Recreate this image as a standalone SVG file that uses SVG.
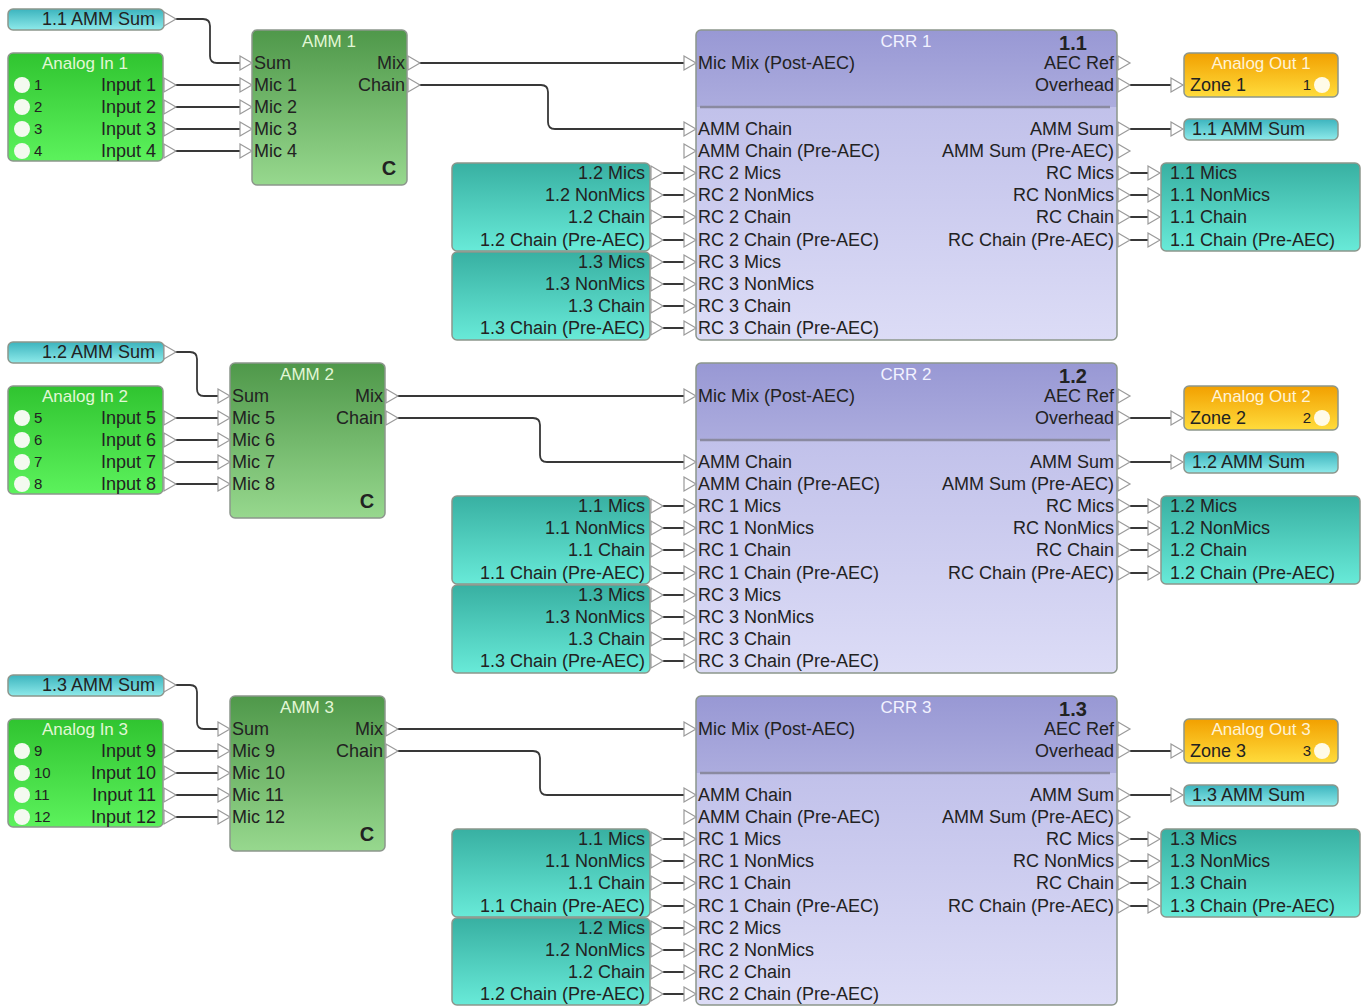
<svg xmlns="http://www.w3.org/2000/svg" xmlns:xlink="http://www.w3.org/1999/xlink" width="1362" height="1006" viewBox="0 0 1362 1006">
<defs>
<linearGradient id="gAmm" x1="0" y1="0" x2="0" y2="1"><stop offset="0" stop-color="#4f984a"/><stop offset="1" stop-color="#97d88e"/></linearGradient>
<linearGradient id="gIn" x1="0" y1="0" x2="0" y2="1"><stop offset="0" stop-color="#30c430"/><stop offset="1" stop-color="#5cf25c"/></linearGradient>
<linearGradient id="gOut" x1="0" y1="0" x2="0" y2="1"><stop offset="0" stop-color="#f2a000"/><stop offset="1" stop-color="#ffdc3c"/></linearGradient>
<linearGradient id="gTeal" x1="0" y1="0" x2="0" y2="1"><stop offset="0" stop-color="#38b0a2"/><stop offset="1" stop-color="#68ead8"/></linearGradient>
<linearGradient id="gSum" x1="0" y1="0" x2="0" y2="1"><stop offset="0" stop-color="#3cb4be"/><stop offset="1" stop-color="#8eeaea"/></linearGradient>
<linearGradient id="gCrrTop" x1="0" y1="0" x2="0" y2="1"><stop offset="0" stop-color="#9898d4"/><stop offset="1" stop-color="#acacde"/></linearGradient>
<linearGradient id="gCrrBot" x1="0" y1="0" x2="0" y2="1"><stop offset="0" stop-color="#b8b8e6"/><stop offset="1" stop-color="#dcdcf6"/></linearGradient>
<path id="tri" d="M0,-7 L12,0 L0,7 Z" class="port"/>
</defs>
<style>
.t{font-family:"Liberation Sans",Arial,sans-serif;font-size:18px;fill:#222222}
.e{text-anchor:end}
.m{text-anchor:middle}
.n{font-size:15px}
.b{font-weight:bold;font-size:20px}
.tg{fill:#e2f7d6;font-size:17px}
.tp{fill:#f2f2ff;font-size:17px}
.to{fill:#fff3d6;font-size:17px}
.port{fill:#ffffff;stroke:#9a9a9a;stroke-width:1.2}
.wire{fill:none;stroke:#383838;stroke-width:1.8}
.box{stroke:#8c968c;stroke-width:1.5}
.amm{fill:url(#gAmm)}
.ain{fill:url(#gIn)}
.aout{fill:url(#gOut)}
.teal{fill:url(#gTeal)}
.sum{fill:url(#gSum)}
.led{fill:#f4faf0}
.crrb{fill:url(#gCrrBot)}
.crrt{fill:url(#gCrrTop)}
.sep{stroke:#8a8aa0;stroke-width:2.5}
</style>
<rect width="1362" height="1006" fill="#ffffff"/>

<g id="connectors">
<path class="wire" d="M172,19 H203 Q210,19 210,26 V56 Q210,63 217,63 H240"/>
<path class="wire" d="M174,85 H240 M174,107 H240 M174,129 H240 M174,151 H240"/>
<path class="wire" d="M418,63 H684"/>
<path class="wire" d="M418,85 H541 Q548,85 548,92 V122 Q548,129 555,129 H684"/>
<path class="wire" d="M663,173 H684 M663,195 H684 M663,217 H684 M663,240 H684 M663,262 H684 M663,284 H684 M663,306 H684 M663,328 H684"/>
<path class="wire" d="M1130,85 H1171 M1130,129 H1171"/>
<path class="wire" d="M1130,173 H1148 M1130,195 H1148 M1130,217 H1148 M1130,240 H1148"/>
<path class="wire" d="M172,352 H190 Q197,352 197,359 V389 Q197,396 204,396 H218"/>
<path class="wire" d="M174,418 H218 M174,440 H218 M174,462 H218 M174,484 H218"/>
<path class="wire" d="M396,396 H684"/>
<path class="wire" d="M396,418 H533 Q540,418 540,425 V455 Q540,462 547,462 H684"/>
<path class="wire" d="M663,506 H684 M663,528 H684 M663,550 H684 M663,573 H684 M663,595 H684 M663,617 H684 M663,639 H684 M663,661 H684"/>
<path class="wire" d="M1130,418 H1171 M1130,462 H1171"/>
<path class="wire" d="M1130,506 H1148 M1130,528 H1148 M1130,550 H1148 M1130,573 H1148"/>
<path class="wire" d="M172,685 H190 Q197,685 197,692 V722 Q197,729 204,729 H218"/>
<path class="wire" d="M174,751 H218 M174,773 H218 M174,795 H218 M174,817 H218"/>
<path class="wire" d="M396,729 H684"/>
<path class="wire" d="M396,751 H533 Q540,751 540,758 V788 Q540,795 547,795 H684"/>
<path class="wire" d="M663,839 H684 M663,861 H684 M663,883 H684 M663,906 H684 M663,928 H684 M663,950 H684 M663,972 H684 M663,994 H684"/>
<path class="wire" d="M1130,751 H1171 M1130,795 H1171"/>
<path class="wire" d="M1130,839 H1148 M1130,861 H1148 M1130,883 H1148 M1130,906 H1148"/>
</g>

<g id="amm-sum-in-1">
<rect class="box sum" x="8" y="9" width="156" height="21" rx="5"/>
<text class="t e" x="155" y="25">1.1 AMM Sum</text>
<use href="#tri" x="164" y="19"/>
</g>
<g id="analog-in-1">
<rect class="box ain" x="8" y="53" width="155" height="108" rx="5"/>
<text class="t m tg" x="85" y="69">Analog In 1</text>
<circle class="led" cx="22" cy="85" r="8"/><circle class="led" cx="22" cy="107" r="8"/><circle class="led" cx="22" cy="129" r="8"/><circle class="led" cx="22" cy="151" r="8"/>
<text class="t n" x="34" y="90">1</text><text class="t n" x="34" y="112">2</text><text class="t n" x="34" y="134">3</text><text class="t n" x="34" y="156">4</text>
<text class="t e" x="156" y="91">Input 1</text><text class="t e" x="156" y="113">Input 2</text><text class="t e" x="156" y="135">Input 3</text><text class="t e" x="156" y="157">Input 4</text>
<use href="#tri" x="164" y="85"/><use href="#tri" x="164" y="107"/><use href="#tri" x="164" y="129"/><use href="#tri" x="164" y="151"/>
</g>
<g id="amm-1">
<rect class="box amm" x="252" y="30" width="155" height="155" rx="5"/>
<text class="t m tg" x="329" y="47">AMM 1</text>
<text class="t" x="254" y="69">Sum</text><text class="t" x="254" y="91">Mic 1</text><text class="t" x="254" y="113">Mic 2</text><text class="t" x="254" y="135">Mic 3</text><text class="t" x="254" y="157">Mic 4</text>
<text class="t e" x="405" y="69">Mix</text><text class="t e" x="405" y="91">Chain</text>
<text class="t m b" x="389" y="175">C</text>
<use href="#tri" x="240" y="63"/><use href="#tri" x="240" y="85"/><use href="#tri" x="240" y="107"/><use href="#tri" x="240" y="129"/><use href="#tri" x="240" y="151"/>
<use href="#tri" x="408" y="63"/><use href="#tri" x="408" y="85"/>
</g>
<g id="crr-1">
<rect class="crrb" x="696" y="30" width="421" height="310" rx="5"/>
<path class="crrt" d="M696,107 V35 Q696,30 701,30 H1112 Q1117,30 1117,35 V107 Z"/>
<line class="sep" x1="700" y1="107" x2="1110" y2="107"/>
<rect class="box" fill="none" x="696" y="30" width="421" height="310" rx="5"/>
<text class="t m tp" x="906" y="47">CRR 1</text>
<text class="t m b" x="1073" y="50">1.1</text>
<text class="t" x="698" y="69">Mic Mix (Post-AEC)</text>
<text class="t" x="698" y="135">AMM Chain</text>
<text class="t" x="698" y="157">AMM Chain (Pre-AEC)</text>
<text class="t" x="698" y="179">RC 2 Mics</text>
<text class="t" x="698" y="201">RC 2 NonMics</text>
<text class="t" x="698" y="223">RC 2 Chain</text>
<text class="t" x="698" y="246">RC 2 Chain (Pre-AEC)</text>
<text class="t" x="698" y="268">RC 3 Mics</text>
<text class="t" x="698" y="290">RC 3 NonMics</text>
<text class="t" x="698" y="312">RC 3 Chain</text>
<text class="t" x="698" y="334">RC 3 Chain (Pre-AEC)</text>
<text class="t e" x="1114" y="69">AEC Ref</text>
<text class="t e" x="1114" y="91">Overhead</text>
<text class="t e" x="1114" y="135">AMM Sum</text>
<text class="t e" x="1114" y="157">AMM Sum (Pre-AEC)</text>
<text class="t e" x="1114" y="179">RC Mics</text>
<text class="t e" x="1114" y="201">RC NonMics</text>
<text class="t e" x="1114" y="223">RC Chain</text>
<text class="t e" x="1114" y="246">RC Chain (Pre-AEC)</text>
<use href="#tri" x="684" y="63"/><use href="#tri" x="684" y="129"/><use href="#tri" x="684" y="151"/><use href="#tri" x="684" y="173"/><use href="#tri" x="684" y="195"/><use href="#tri" x="684" y="217"/><use href="#tri" x="684" y="240"/><use href="#tri" x="684" y="262"/><use href="#tri" x="684" y="284"/><use href="#tri" x="684" y="306"/><use href="#tri" x="684" y="328"/>
<use href="#tri" x="1118" y="63"/><use href="#tri" x="1118" y="85"/><use href="#tri" x="1118" y="129"/><use href="#tri" x="1118" y="151"/><use href="#tri" x="1118" y="173"/><use href="#tri" x="1118" y="195"/><use href="#tri" x="1118" y="217"/><use href="#tri" x="1118" y="240"/>
</g>
<g id="rc-in-1-2">
<rect class="box teal" x="452" y="163" width="198" height="88" rx="5"/>
<text class="t e" x="645" y="179">1.2 Mics</text><text class="t e" x="645" y="201">1.2 NonMics</text><text class="t e" x="645" y="223">1.2 Chain</text><text class="t e" x="645" y="246">1.2 Chain (Pre-AEC)</text>
<use href="#tri" x="651" y="173"/><use href="#tri" x="651" y="195"/><use href="#tri" x="651" y="217"/><use href="#tri" x="651" y="240"/>
</g>
<g id="rc-in-1-3">
<rect class="box teal" x="452" y="252" width="198" height="88" rx="5"/>
<text class="t e" x="645" y="268">1.3 Mics</text><text class="t e" x="645" y="290">1.3 NonMics</text><text class="t e" x="645" y="312">1.3 Chain</text><text class="t e" x="645" y="334">1.3 Chain (Pre-AEC)</text>
<use href="#tri" x="651" y="262"/><use href="#tri" x="651" y="284"/><use href="#tri" x="651" y="306"/><use href="#tri" x="651" y="328"/>
</g>
<g id="analog-out-1">
<rect class="box aout" x="1184" y="53" width="154" height="44" rx="5"/>
<text class="t m to" x="1261" y="69">Analog Out 1</text>
<text class="t" x="1190" y="91">Zone 1</text>
<text class="t n e" x="1311" y="90">1</text>
<circle cx="1322" cy="85" r="8" fill="#fffbe8"/>
<use href="#tri" x="1171" y="85"/>
</g>
<g id="amm-sum-out-1">
<rect class="box sum" x="1184" y="119" width="154" height="21" rx="5"/>
<text class="t" x="1192" y="135">1.1 AMM Sum</text>
<use href="#tri" x="1171" y="129"/>
</g>
<g id="rc-out-1">
<rect class="box teal" x="1161" y="163" width="199" height="88" rx="5"/>
<text class="t" x="1170" y="179">1.1 Mics</text><text class="t" x="1170" y="201">1.1 NonMics</text><text class="t" x="1170" y="223">1.1 Chain</text><text class="t" x="1170" y="246">1.1 Chain (Pre-AEC)</text>
<use href="#tri" x="1148" y="173"/><use href="#tri" x="1148" y="195"/><use href="#tri" x="1148" y="217"/><use href="#tri" x="1148" y="240"/>
</g>

<g id="amm-sum-in-2">
<rect class="box sum" x="8" y="342" width="156" height="21" rx="5"/>
<text class="t e" x="155" y="358">1.2 AMM Sum</text>
<use href="#tri" x="164" y="352"/>
</g>
<g id="analog-in-2">
<rect class="box ain" x="8" y="386" width="155" height="108" rx="5"/>
<text class="t m tg" x="85" y="402">Analog In 2</text>
<circle class="led" cx="22" cy="418" r="8"/><circle class="led" cx="22" cy="440" r="8"/><circle class="led" cx="22" cy="462" r="8"/><circle class="led" cx="22" cy="484" r="8"/>
<text class="t n" x="34" y="423">5</text><text class="t n" x="34" y="445">6</text><text class="t n" x="34" y="467">7</text><text class="t n" x="34" y="489">8</text>
<text class="t e" x="156" y="424">Input 5</text><text class="t e" x="156" y="446">Input 6</text><text class="t e" x="156" y="468">Input 7</text><text class="t e" x="156" y="490">Input 8</text>
<use href="#tri" x="164" y="418"/><use href="#tri" x="164" y="440"/><use href="#tri" x="164" y="462"/><use href="#tri" x="164" y="484"/>
</g>
<g id="amm-2">
<rect class="box amm" x="230" y="363" width="155" height="155" rx="5"/>
<text class="t m tg" x="307" y="380">AMM 2</text>
<text class="t" x="232" y="402">Sum</text><text class="t" x="232" y="424">Mic 5</text><text class="t" x="232" y="446">Mic 6</text><text class="t" x="232" y="468">Mic 7</text><text class="t" x="232" y="490">Mic 8</text>
<text class="t e" x="383" y="402">Mix</text><text class="t e" x="383" y="424">Chain</text>
<text class="t m b" x="367" y="508">C</text>
<use href="#tri" x="218" y="396"/><use href="#tri" x="218" y="418"/><use href="#tri" x="218" y="440"/><use href="#tri" x="218" y="462"/><use href="#tri" x="218" y="484"/>
<use href="#tri" x="386" y="396"/><use href="#tri" x="386" y="418"/>
</g>
<g id="crr-2">
<rect class="crrb" x="696" y="363" width="421" height="310" rx="5"/>
<path class="crrt" d="M696,440 V368 Q696,363 701,363 H1112 Q1117,363 1117,368 V440 Z"/>
<line class="sep" x1="700" y1="440" x2="1110" y2="440"/>
<rect class="box" fill="none" x="696" y="363" width="421" height="310" rx="5"/>
<text class="t m tp" x="906" y="380">CRR 2</text>
<text class="t m b" x="1073" y="383">1.2</text>
<text class="t" x="698" y="402">Mic Mix (Post-AEC)</text>
<text class="t" x="698" y="468">AMM Chain</text>
<text class="t" x="698" y="490">AMM Chain (Pre-AEC)</text>
<text class="t" x="698" y="512">RC 1 Mics</text>
<text class="t" x="698" y="534">RC 1 NonMics</text>
<text class="t" x="698" y="556">RC 1 Chain</text>
<text class="t" x="698" y="579">RC 1 Chain (Pre-AEC)</text>
<text class="t" x="698" y="601">RC 3 Mics</text>
<text class="t" x="698" y="623">RC 3 NonMics</text>
<text class="t" x="698" y="645">RC 3 Chain</text>
<text class="t" x="698" y="667">RC 3 Chain (Pre-AEC)</text>
<text class="t e" x="1114" y="402">AEC Ref</text>
<text class="t e" x="1114" y="424">Overhead</text>
<text class="t e" x="1114" y="468">AMM Sum</text>
<text class="t e" x="1114" y="490">AMM Sum (Pre-AEC)</text>
<text class="t e" x="1114" y="512">RC Mics</text>
<text class="t e" x="1114" y="534">RC NonMics</text>
<text class="t e" x="1114" y="556">RC Chain</text>
<text class="t e" x="1114" y="579">RC Chain (Pre-AEC)</text>
<use href="#tri" x="684" y="396"/><use href="#tri" x="684" y="462"/><use href="#tri" x="684" y="484"/><use href="#tri" x="684" y="506"/><use href="#tri" x="684" y="528"/><use href="#tri" x="684" y="550"/><use href="#tri" x="684" y="573"/><use href="#tri" x="684" y="595"/><use href="#tri" x="684" y="617"/><use href="#tri" x="684" y="639"/><use href="#tri" x="684" y="661"/>
<use href="#tri" x="1118" y="396"/><use href="#tri" x="1118" y="418"/><use href="#tri" x="1118" y="462"/><use href="#tri" x="1118" y="484"/><use href="#tri" x="1118" y="506"/><use href="#tri" x="1118" y="528"/><use href="#tri" x="1118" y="550"/><use href="#tri" x="1118" y="573"/>
</g>
<g id="rc-in-2-1">
<rect class="box teal" x="452" y="496" width="198" height="88" rx="5"/>
<text class="t e" x="645" y="512">1.1 Mics</text><text class="t e" x="645" y="534">1.1 NonMics</text><text class="t e" x="645" y="556">1.1 Chain</text><text class="t e" x="645" y="579">1.1 Chain (Pre-AEC)</text>
<use href="#tri" x="651" y="506"/><use href="#tri" x="651" y="528"/><use href="#tri" x="651" y="550"/><use href="#tri" x="651" y="573"/>
</g>
<g id="rc-in-2-3">
<rect class="box teal" x="452" y="585" width="198" height="88" rx="5"/>
<text class="t e" x="645" y="601">1.3 Mics</text><text class="t e" x="645" y="623">1.3 NonMics</text><text class="t e" x="645" y="645">1.3 Chain</text><text class="t e" x="645" y="667">1.3 Chain (Pre-AEC)</text>
<use href="#tri" x="651" y="595"/><use href="#tri" x="651" y="617"/><use href="#tri" x="651" y="639"/><use href="#tri" x="651" y="661"/>
</g>
<g id="analog-out-2">
<rect class="box aout" x="1184" y="386" width="154" height="44" rx="5"/>
<text class="t m to" x="1261" y="402">Analog Out 2</text>
<text class="t" x="1190" y="424">Zone 2</text>
<text class="t n e" x="1311" y="423">2</text>
<circle cx="1322" cy="418" r="8" fill="#fffbe8"/>
<use href="#tri" x="1171" y="418"/>
</g>
<g id="amm-sum-out-2">
<rect class="box sum" x="1184" y="452" width="154" height="21" rx="5"/>
<text class="t" x="1192" y="468">1.2 AMM Sum</text>
<use href="#tri" x="1171" y="462"/>
</g>
<g id="rc-out-2">
<rect class="box teal" x="1161" y="496" width="199" height="88" rx="5"/>
<text class="t" x="1170" y="512">1.2 Mics</text><text class="t" x="1170" y="534">1.2 NonMics</text><text class="t" x="1170" y="556">1.2 Chain</text><text class="t" x="1170" y="579">1.2 Chain (Pre-AEC)</text>
<use href="#tri" x="1148" y="506"/><use href="#tri" x="1148" y="528"/><use href="#tri" x="1148" y="550"/><use href="#tri" x="1148" y="573"/>
</g>

<g id="amm-sum-in-3">
<rect class="box sum" x="8" y="675" width="156" height="21" rx="5"/>
<text class="t e" x="155" y="691">1.3 AMM Sum</text>
<use href="#tri" x="164" y="685"/>
</g>
<g id="analog-in-3">
<rect class="box ain" x="8" y="719" width="155" height="108" rx="5"/>
<text class="t m tg" x="85" y="735">Analog In 3</text>
<circle class="led" cx="22" cy="751" r="8"/><circle class="led" cx="22" cy="773" r="8"/><circle class="led" cx="22" cy="795" r="8"/><circle class="led" cx="22" cy="817" r="8"/>
<text class="t n" x="34" y="756">9</text><text class="t n" x="34" y="778">10</text><text class="t n" x="34" y="800">11</text><text class="t n" x="34" y="822">12</text>
<text class="t e" x="156" y="757">Input 9</text><text class="t e" x="156" y="779">Input 10</text><text class="t e" x="156" y="801">Input 11</text><text class="t e" x="156" y="823">Input 12</text>
<use href="#tri" x="164" y="751"/><use href="#tri" x="164" y="773"/><use href="#tri" x="164" y="795"/><use href="#tri" x="164" y="817"/>
</g>
<g id="amm-3">
<rect class="box amm" x="230" y="696" width="155" height="155" rx="5"/>
<text class="t m tg" x="307" y="713">AMM 3</text>
<text class="t" x="232" y="735">Sum</text><text class="t" x="232" y="757">Mic 9</text><text class="t" x="232" y="779">Mic 10</text><text class="t" x="232" y="801">Mic 11</text><text class="t" x="232" y="823">Mic 12</text>
<text class="t e" x="383" y="735">Mix</text><text class="t e" x="383" y="757">Chain</text>
<text class="t m b" x="367" y="841">C</text>
<use href="#tri" x="218" y="729"/><use href="#tri" x="218" y="751"/><use href="#tri" x="218" y="773"/><use href="#tri" x="218" y="795"/><use href="#tri" x="218" y="817"/>
<use href="#tri" x="386" y="729"/><use href="#tri" x="386" y="751"/>
</g>
<g id="crr-3">
<rect class="crrb" x="696" y="696" width="421" height="309" rx="5"/>
<path class="crrt" d="M696,773 V701 Q696,696 701,696 H1112 Q1117,696 1117,701 V773 Z"/>
<line class="sep" x1="700" y1="773" x2="1110" y2="773"/>
<rect class="box" fill="none" x="696" y="696" width="421" height="309" rx="5"/>
<text class="t m tp" x="906" y="713">CRR 3</text>
<text class="t m b" x="1073" y="716">1.3</text>
<text class="t" x="698" y="735">Mic Mix (Post-AEC)</text>
<text class="t" x="698" y="801">AMM Chain</text>
<text class="t" x="698" y="823">AMM Chain (Pre-AEC)</text>
<text class="t" x="698" y="845">RC 1 Mics</text>
<text class="t" x="698" y="867">RC 1 NonMics</text>
<text class="t" x="698" y="889">RC 1 Chain</text>
<text class="t" x="698" y="912">RC 1 Chain (Pre-AEC)</text>
<text class="t" x="698" y="934">RC 2 Mics</text>
<text class="t" x="698" y="956">RC 2 NonMics</text>
<text class="t" x="698" y="978">RC 2 Chain</text>
<text class="t" x="698" y="1000">RC 2 Chain (Pre-AEC)</text>
<text class="t e" x="1114" y="735">AEC Ref</text>
<text class="t e" x="1114" y="757">Overhead</text>
<text class="t e" x="1114" y="801">AMM Sum</text>
<text class="t e" x="1114" y="823">AMM Sum (Pre-AEC)</text>
<text class="t e" x="1114" y="845">RC Mics</text>
<text class="t e" x="1114" y="867">RC NonMics</text>
<text class="t e" x="1114" y="889">RC Chain</text>
<text class="t e" x="1114" y="912">RC Chain (Pre-AEC)</text>
<use href="#tri" x="684" y="729"/><use href="#tri" x="684" y="795"/><use href="#tri" x="684" y="817"/><use href="#tri" x="684" y="839"/><use href="#tri" x="684" y="861"/><use href="#tri" x="684" y="883"/><use href="#tri" x="684" y="906"/><use href="#tri" x="684" y="928"/><use href="#tri" x="684" y="950"/><use href="#tri" x="684" y="972"/><use href="#tri" x="684" y="994"/>
<use href="#tri" x="1118" y="729"/><use href="#tri" x="1118" y="751"/><use href="#tri" x="1118" y="795"/><use href="#tri" x="1118" y="817"/><use href="#tri" x="1118" y="839"/><use href="#tri" x="1118" y="861"/><use href="#tri" x="1118" y="883"/><use href="#tri" x="1118" y="906"/>
</g>
<g id="rc-in-3-1">
<rect class="box teal" x="452" y="829" width="198" height="88" rx="5"/>
<text class="t e" x="645" y="845">1.1 Mics</text><text class="t e" x="645" y="867">1.1 NonMics</text><text class="t e" x="645" y="889">1.1 Chain</text><text class="t e" x="645" y="912">1.1 Chain (Pre-AEC)</text>
<use href="#tri" x="651" y="839"/><use href="#tri" x="651" y="861"/><use href="#tri" x="651" y="883"/><use href="#tri" x="651" y="906"/>
</g>
<g id="rc-in-3-2">
<rect class="box teal" x="452" y="918" width="198" height="87" rx="5"/>
<text class="t e" x="645" y="934">1.2 Mics</text><text class="t e" x="645" y="956">1.2 NonMics</text><text class="t e" x="645" y="978">1.2 Chain</text><text class="t e" x="645" y="1000">1.2 Chain (Pre-AEC)</text>
<use href="#tri" x="651" y="928"/><use href="#tri" x="651" y="950"/><use href="#tri" x="651" y="972"/><use href="#tri" x="651" y="994"/>
</g>
<g id="analog-out-3">
<rect class="box aout" x="1184" y="719" width="154" height="44" rx="5"/>
<text class="t m to" x="1261" y="735">Analog Out 3</text>
<text class="t" x="1190" y="757">Zone 3</text>
<text class="t n e" x="1311" y="756">3</text>
<circle cx="1322" cy="751" r="8" fill="#fffbe8"/>
<use href="#tri" x="1171" y="751"/>
</g>
<g id="amm-sum-out-3">
<rect class="box sum" x="1184" y="785" width="154" height="21" rx="5"/>
<text class="t" x="1192" y="801">1.3 AMM Sum</text>
<use href="#tri" x="1171" y="795"/>
</g>
<g id="rc-out-3">
<rect class="box teal" x="1161" y="829" width="199" height="88" rx="5"/>
<text class="t" x="1170" y="845">1.3 Mics</text><text class="t" x="1170" y="867">1.3 NonMics</text><text class="t" x="1170" y="889">1.3 Chain</text><text class="t" x="1170" y="912">1.3 Chain (Pre-AEC)</text>
<use href="#tri" x="1148" y="839"/><use href="#tri" x="1148" y="861"/><use href="#tri" x="1148" y="883"/><use href="#tri" x="1148" y="906"/>
</g>
</svg>
